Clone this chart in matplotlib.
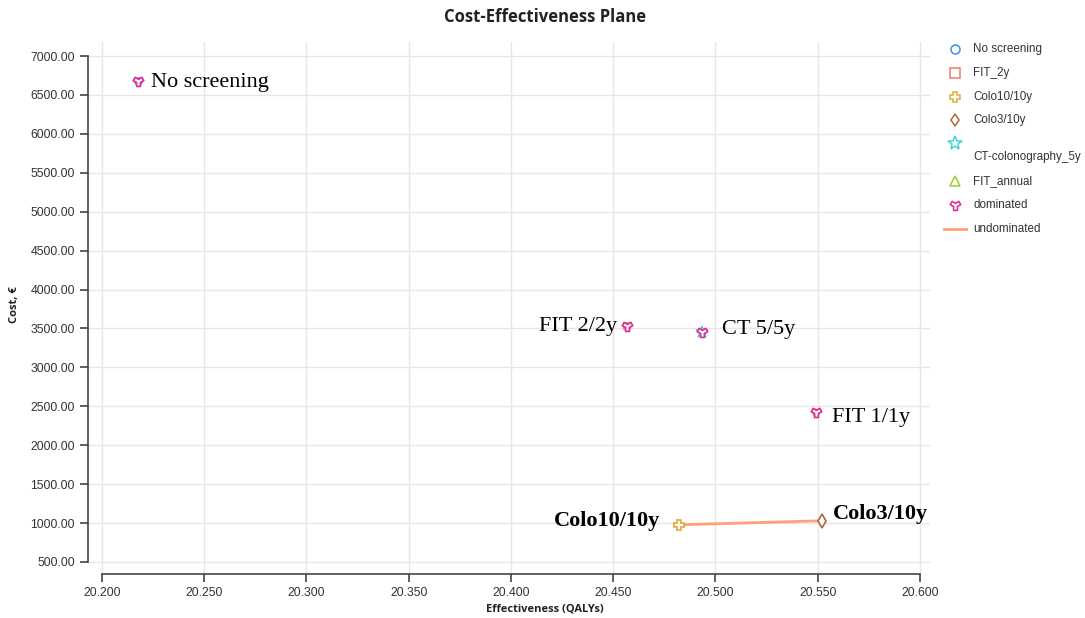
import numpy as np
import matplotlib
matplotlib.use("Agg")
import matplotlib.pyplot as plt
from matplotlib.path import Path
from matplotlib.lines import Line2D

# strategies (effectiveness in QALYs, cost in euro)
strategies = ["No screening", "FIT_2y", "Colo10/10y", "Colo3/10y",
              "CT-colonography_5y", "FIT_annual"]
qalys = [20.2176, 20.4568, 20.4822, 20.5520, 20.4935, 20.5491]
costs = [6680.0, 3530.0, 977.0, 1029.0, 3453.0, 2422.0]
colors = ["#3b8ff0", "#f07a6a", "#e8a838", "#b0653f", "#45d3d3", "#9acd32"]
markers = ["o", "s", "P", "d", "*", "^"]

dominated = ["No screening", "FIT_2y", "CT-colonography_5y", "FIT_annual"]
undominated = ["Colo10/10y", "Colo3/10y"]

# point labels: text, strategy, pixel offset, alignment, bold
labels = [
    ("No screening", "No screening", (13, -2), "left", "normal"),
    ("FIT 2/2y", "FIT_2y", (-10, 0), "right", "normal"),
    ("CT 5/5y", "CT-colonography_5y", (20, 3), "left", "normal"),
    ("FIT 1/1y", "FIT_annual", (16, -5), "left", "normal"),
    ("Colo10/10y", "Colo10/10y", (-19, 4), "right", "bold"),
    ("Colo3/10y", "Colo3/10y", (11, 7), "left", "bold"),
]

x_ticks = [20.20, 20.25, 20.30, 20.35, 20.40, 20.45, 20.50, 20.55, 20.60]
y_ticks = list(range(500, 7001, 500))

DOM_COLOR = "#e0309a"
LINE_COLOR = "#ffa07a"


def wye_marker():
    """d3 style 'wye' symbol, flipped for matplotlib's y axis"""
    c, s = -0.5, np.sqrt(3) / 2
    k = 1 / np.sqrt(12)
    r = 1.0
    x0, y0 = r / 2, r * k
    x1, y1 = x0, r * k + r
    x2, y2 = -x1, y1
    pts = [(x0, y0), (x1, y1), (x2, y2),
           (c * x0 - s * y0, s * x0 + c * y0),
           (c * x1 - s * y1, s * x1 + c * y1),
           (c * x2 - s * y2, s * x2 + c * y2),
           (c * x0 + s * y0, c * y0 - s * x0),
           (c * x1 + s * y1, c * y1 - s * x1),
           (c * x2 + s * y2, c * y2 - s * x2),
           (x0, y0)]
    pts = [(px, -py) for px, py in pts]
    codes = [Path.MOVETO] + [Path.LINETO] * 8 + [Path.CLOSEPOLY]
    return Path(pts, codes)


WYE = wye_marker()

plt.rcParams["font.family"] = ["Liberation Sans", "DejaVu Sans"]

fig = plt.figure(figsize=(10.85, 6.18), dpi=100)
W, H = 1085, 618
ax = fig.add_axes([88 / W, 1 - 574 / H, (930 - 88) / W, (574 - 42) / H])

ax.set_xlim(20.1932, 20.6049)
ax.set_ylim(345, 7180)

ax.set_xticks(x_ticks)
ax.set_yticks(y_ticks)
ax.set_xticklabels([f"{v:.3f}" for v in x_ticks])
ax.set_yticklabels([f"{v:.2f}" for v in y_ticks])
ax.grid(True, color="#e6e6e6", linewidth=1)
ax.set_axisbelow(True)

for side in ["top", "right"]:
    ax.spines[side].set_visible(False)
ax.spines["bottom"].set_bounds(x_ticks[0], x_ticks[-1])
ax.spines["left"].set_bounds(y_ticks[0], y_ticks[-1])
for side in ["bottom", "left"]:
    ax.spines[side].set_color("#444444")
    ax.spines[side].set_linewidth(1.2)
ax.tick_params(direction="out", length=6, width=1.2, color="#444444",
               labelsize=8.8, labelcolor="#333333")

# undominated frontier
ux = [qalys[strategies.index(s)] for s in undominated]
uy = [costs[strategies.index(s)] for s in undominated]
ax.plot(ux, uy, color=LINE_COLOR, linewidth=2, zorder=2)

# strategy markers
for name, xv, yv, col, mk in zip(strategies, qalys, costs, colors, markers):
    if name in dominated:
        size = 9 if mk == "*" else 5
    else:
        size = 7
    ax.plot([xv], [yv], linestyle="none", marker=mk, markersize=size,
            markerfacecolor="white", markeredgecolor=col,
            markeredgewidth=1.2, zorder=3)

# dominated markers on top
dx = [qalys[strategies.index(s)] for s in dominated]
dy = [costs[strategies.index(s)] for s in dominated]
ax.plot(dx, dy, linestyle="none", marker=WYE, markersize=7.5,
        markerfacecolor="white", markeredgecolor=DOM_COLOR,
        markeredgewidth=1.3, zorder=4)

# point labels
for txt, name, off, ha, weight in labels:
    i = strategies.index(name)
    ax.annotate(txt, (qalys[i], costs[i]), xytext=off,
                textcoords="offset pixels", ha=ha, va="center",
                fontsize=16, fontweight=weight,
                family=["Liberation Serif", "DejaVu Serif"], color="black")

fig.text(545 / W, 1 - 17 / H, "Cost-Effectiveness Plane", ha="center",
         va="center", fontsize=12, fontweight="bold", color="#222222",
         family=["Open Sans", "DejaVu Sans"])
fig.text(545 / W, 1 - 609 / H, "Effectiveness (QALYs)", ha="center",
         va="center", fontsize=8, fontweight="bold", color="#222222",
         family=["Open Sans", "DejaVu Sans"])
fig.text(15 / W, 1 - 305 / H, "Cost, €", ha="center", va="center",
         rotation=90, fontsize=8, fontweight="bold", color="#222222",
         family=["Open Sans", "DejaVu Sans"])

# legend drawn by hand (CT label wraps under its marker)
leg_rows = [
    ("No screening", 49, 49),
    ("FIT_2y", 73, 73),
    ("Colo10/10y", 97, 97),
    ("Colo3/10y", 120, 120),
    ("CT-colonography_5y", 143, 157),
    ("FIT_annual", 181, 181),
]
mx, tx = 955 / W, 973 / W
for name, my, ty in leg_rows:
    i = strategies.index(name)
    fig.add_artist(Line2D([mx], [1 - my / H], linestyle="none",
                          marker=markers[i],
                          markersize=6.5 if markers[i] != "*" else 10,
                          markerfacecolor="white", markeredgecolor=colors[i],
                          markeredgewidth=1.1, transform=fig.transFigure))
    fig.text(tx, 1 - ty / H, name, ha="left", va="center", fontsize=8.4,
             color="#333333")
fig.add_artist(Line2D([mx], [1 - 205 / H], linestyle="none", marker=WYE,
                      markersize=7.5, markerfacecolor="white",
                      markeredgecolor=DOM_COLOR, markeredgewidth=1.2,
                      transform=fig.transFigure))
fig.text(tx, 1 - 205 / H, "dominated", ha="left", va="center", fontsize=8.4,
         color="#333333")
fig.add_artist(Line2D([944 / W, 966 / W], [1 - 229 / H, 1 - 229 / H],
                      color=LINE_COLOR, linewidth=2, transform=fig.transFigure))
fig.text(tx, 1 - 229 / H, "undominated", ha="left", va="center", fontsize=8.4,
         color="#333333")

fig.savefig("out.png", dpi=100)
